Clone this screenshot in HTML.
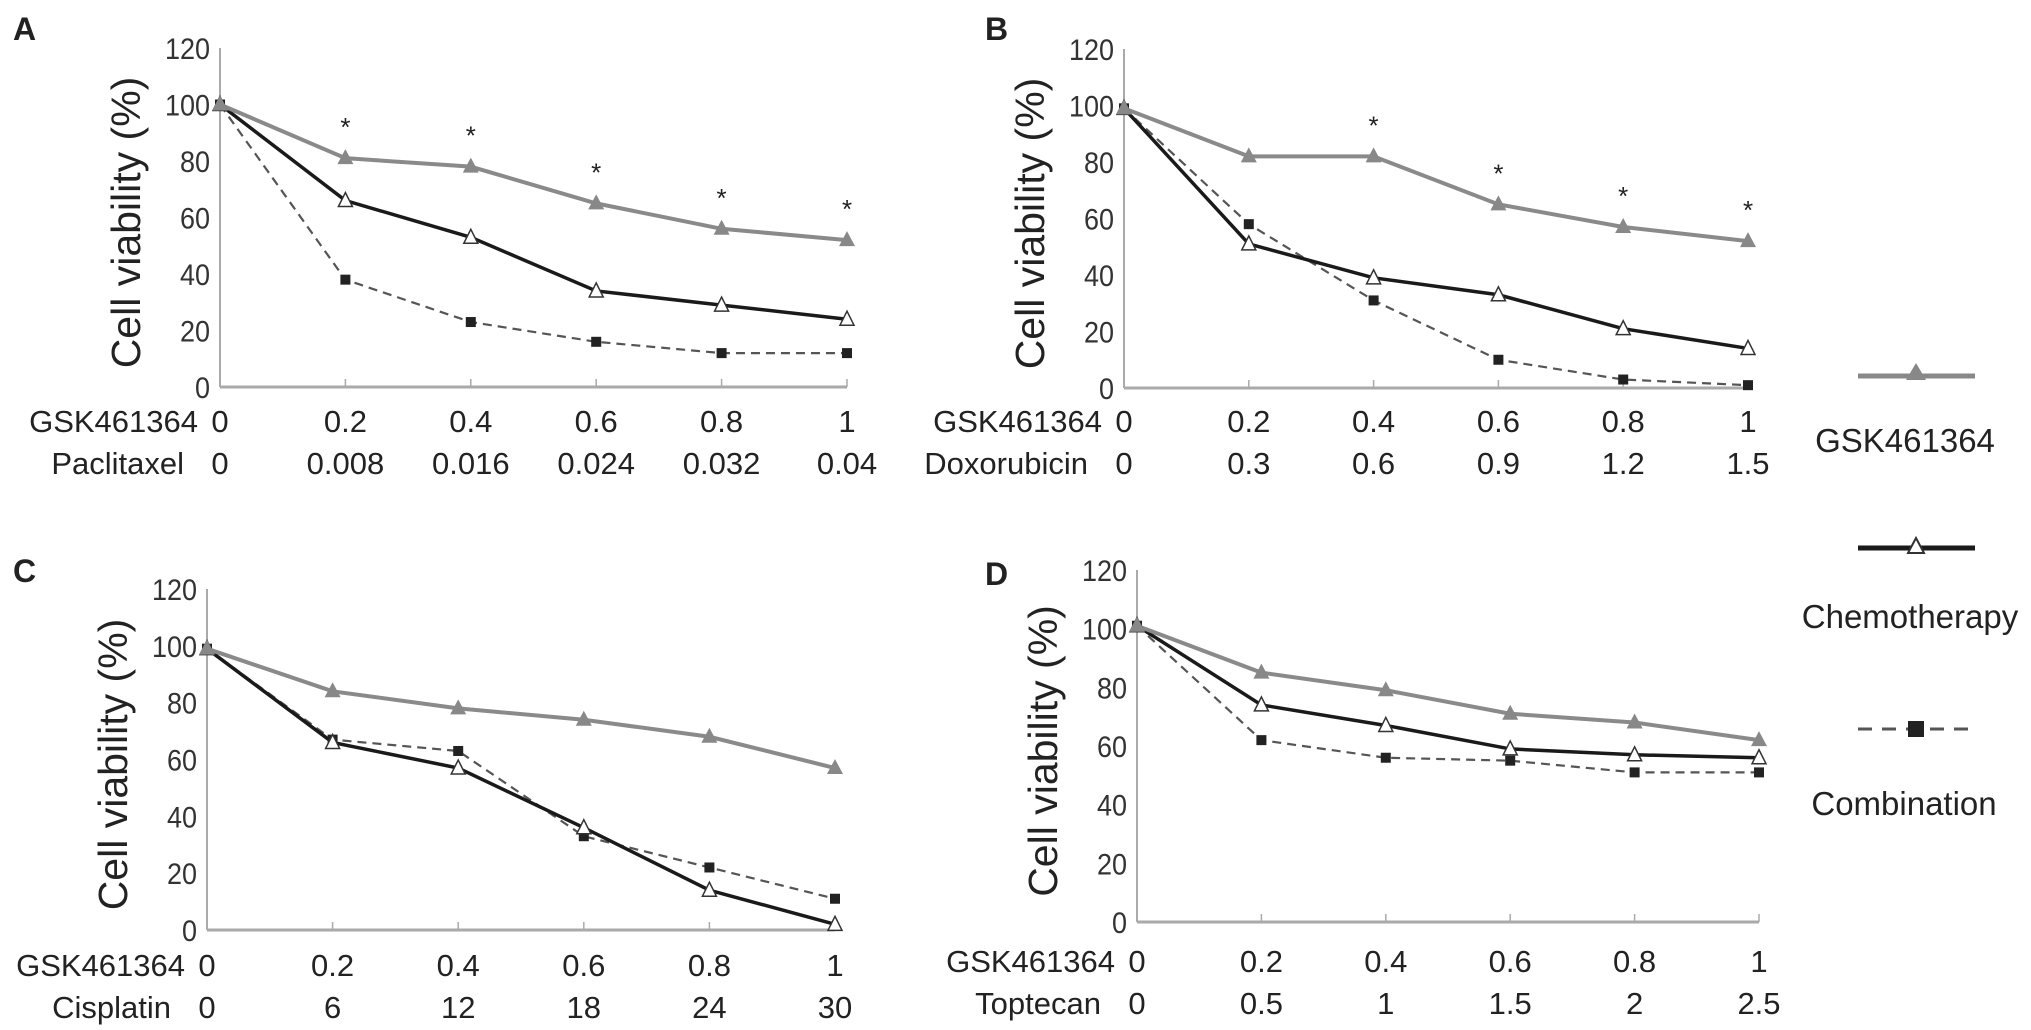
<!DOCTYPE html>
<html><head><meta charset="utf-8">
<style>
html,body{margin:0;padding:0;background:#fff;}
svg{display:block;font-family:"Liberation Sans",Arial,sans-serif;}
</style></head>
<body>
<svg id="fig" width="2031" height="1030" viewBox="0 0 2031 1030"></svg>
<script>
const categoriesGSK = ["0","0.2","0.4","0.6","0.8","1"];
const chemoNames = ["Paclitaxel","Doxorubicin","Cisplatin","Toptecan"];
const chemoDoses = [
  ["0","0.008","0.016","0.024","0.032","0.04"],
  ["0","0.3","0.6","0.9","1.2","1.5"],
  ["0","6","12","18","24","30"],
  ["0","0.5","1","1.5","2","2.5"]
];
const yTicks = [0,20,40,60,80,100,120];
const gskA = [100,81,78,65,56,52];
const chemoA = [100,66,53,34,29,24];
const combA = [100,38,23,16,12,12];
const gskB = [99,82,82,65,57,52];
const chemoB = [99,51,39,33,21,14];
const combB = [99,58,31,10,3,1];
const gskC = [99,84,78,74,68,57];
const chemoC = [99,66,57,36,14,2];
const combC = [99,67,63,33,22,11];
const gskD = [101,85,79,71,68,62];
const chemoD = [101,74,67,59,57,56];
const combD = [101,62,56,55,51,51];
const starsA = [false,true,true,true,true,true];
const starsB = [false,false,true,true,true,true];
const starsC = [false,false,false,false,false,false];
const starsD = [false,false,false,false,false,false];

const NS="http://www.w3.org/2000/svg";
const svg=document.getElementById('fig');
function el(tag,attrs,parent){const e=document.createElementNS(NS,tag);for(const k in attrs)e.setAttribute(k,attrs[k]);(parent||svg).appendChild(e);return e;}
function txt(s,attrs,parent){const t=el('text',attrs,parent);t.textContent=s;return t;}

const panels=[
 {id:"A",x0:220,x1:847,y0:387,y120:48,row1:432,row2:474,lbl:[13,40],g:gskA,c:chemoA,m:combA,s:starsA,n:0},
 {id:"B",x0:1124,x1:1748,y0:388,y120:49,row1:432,row2:474,lbl:[985,40],g:gskB,c:chemoB,m:combB,s:starsB,n:1},
 {id:"C",x0:207,x1:835,y0:930,y120:589,row1:976,row2:1018,lbl:[13,582],g:gskC,c:chemoC,m:combC,s:starsC,n:2},
 {id:"D",x0:1137,x1:1759,y0:922,y120:570,row1:972,row2:1014,lbl:[985,585],g:gskD,c:chemoD,m:combD,s:starsD,n:3}
];

panels.forEach(p=>{
  const g=el('g',{});
  
  
  const xs=i=>p.x0+(p.x1-p.x0)*i/(categoriesGSK.length-1);
  const ys=v=>p.y0-(p.y0-p.y120)*v/120;
  const pl=txt(p.id,{x:p.lbl[0],y:p.lbl[1],'font-size':32,'font-weight':'bold',fill:'#222'},g);
  
  
  const ya=el('line',{x1:p.x0,y1:p.y120,x2:p.x0,y2:p.y0,stroke:'#aaa','stroke-width':2},g);
  
  
  const xa=el('line',{x1:p.x0,y1:p.y0,x2:p.x1,y2:p.y0,stroke:'#aaa','stroke-width':3},g);
  
  
  yTicks.forEach(v=>{
    const t=txt(String(v),{x:p.x0-10,y:ys(v)+11,'font-size':30,'text-anchor':'end',fill:'#333',transform:`translate(${(p.x0-10)*0.1},0) scale(0.9,1)`},g);
    
    
  });
  const yt=txt('Cell viability (%)',{x:0,y:0,'font-size':41,'text-anchor':'middle',fill:'#222',transform:`translate(${p.x0-80},${(p.y0+p.y120)/2+5}) rotate(-90)`},g);
  
  
  categoriesGSK.forEach((c,i)=>{
    if(i>0){const tk=el('line',{x1:xs(i),y1:p.y0-8,x2:xs(i),y2:p.y0,stroke:'#aaa','stroke-width':1.5},g);
      
      }
    const a=txt(c,{x:xs(i),y:p.row1,'font-size':31,'text-anchor':'middle',fill:'#222'},g);
    
    
    const b=txt(chemoDoses[p.n][i],{x:xs(i),y:p.row2,'font-size':31,'text-anchor':'middle',fill:'#222'},g);
    
    
  });
  const r1=txt('GSK461364',{x:p.x0-22,y:p.row1,'font-size':31,'text-anchor':'end',fill:'#222'},g);
  
  
  const r2=txt(chemoNames[p.n],{x:p.x0-36,y:p.row2,'font-size':31,'text-anchor':'end',fill:'#222'},g);
  
  
  const pts=arr=>arr.map((v,i)=>xs(i)+','+ys(v)).join(' ');
  const lm=el('polyline',{points:pts(p.m),fill:'none',stroke:'#555','stroke-width':2.2,'stroke-dasharray':'9,6'},g);
  
  
  const lc=el('polyline',{points:pts(p.c),fill:'none',stroke:'#1a1a1a','stroke-width':3.5},g);
  
  
  const lg=el('polyline',{points:pts(p.g),fill:'none',stroke:'#8a8a8a','stroke-width':4},g);
  
  
  p.m.forEach((v,i)=>{const r=el('rect',{x:xs(i)-5,y:ys(v)-5,width:10,height:10,fill:'#222'},g);
    
    });
  p.c.forEach((v,i)=>{const x=xs(i),y=ys(v);const t=el('polygon',{points:`${x},${y-8} ${x-7},${y+6} ${x+7},${y+6}`,fill:'#fff',stroke:'#333','stroke-width':1.5},g);
    
    });
  p.g.forEach((v,i)=>{const x=xs(i),y=ys(v);const t=el('polygon',{points:`${x},${y-9} ${x-8},${y+6} ${x+8},${y+6}`,fill:'#888'},g);
    
    });
  p.s.forEach((s,i)=>{if(!s)return;const t=txt('*',{x:xs(i),y:ys(p.g[i])-22,'font-size':26,'text-anchor':'middle',fill:'#222'},g);
    
    });
});

const lg=el('g',{});


const e1=el('line',{x1:1858,y1:376,x2:1975,y2:376,stroke:'#888','stroke-width':5},lg);


const e1m=el('polygon',{points:'1916,363 1906,380 1926,380',fill:'#888'},lg);


const t1=txt('GSK461364',{x:1905,y:452,'font-size':33,'text-anchor':'middle',fill:'#222'},lg);


const e2=el('line',{x1:1858,y1:548,x2:1975,y2:548,stroke:'#1a1a1a','stroke-width':5},lg);


const e2m=el('polygon',{points:'1916,538 1908,553 1924,553',fill:'#fff',stroke:'#333','stroke-width':2},lg);


const t2=txt('Chemotherapy',{x:1910,y:628,'font-size':33,'text-anchor':'middle',fill:'#222'},lg);


const e3=el('line',{x1:1858,y1:729,x2:1975,y2:729,stroke:'#555','stroke-width':3,'stroke-dasharray':'14,10'},lg);


const e3m=el('rect',{x:1908,y:721,width:16,height:16,fill:'#222'},lg);


const t3=txt('Combination',{x:1904,y:815,'font-size':33,'text-anchor':'middle',fill:'#222'},lg);


</script>
</body></html>
